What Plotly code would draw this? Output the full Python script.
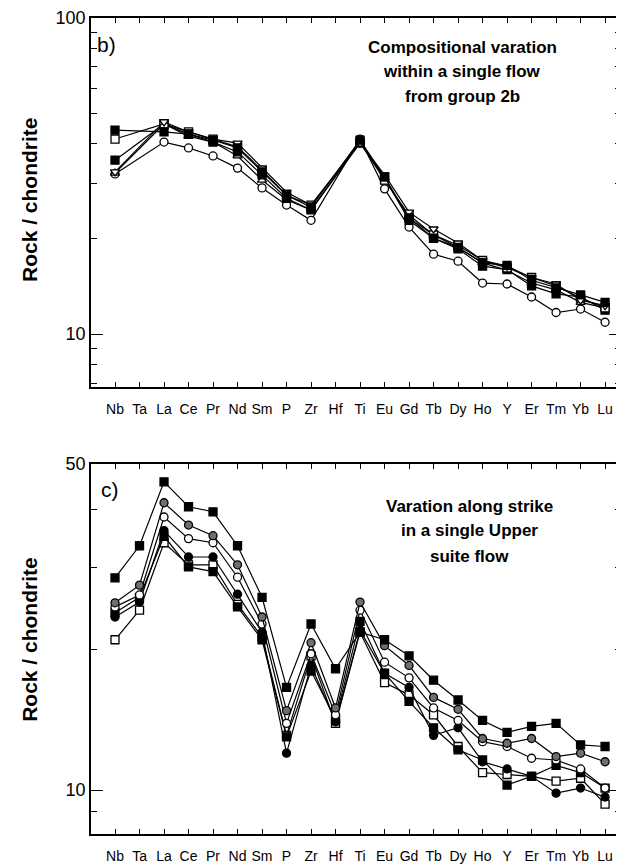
import plotly.graph_objects as go
from plotly.subplots import make_subplots

elements = ["Nb", "Ta", "La", "Ce", "Pr", "Nd", "Sm", "P", "Zr", "Hf", "Ti",
            "Eu", "Gd", "Tb", "Dy", "Ho", "Y", "Er", "Tm", "Yb", "Lu"]

# Panel b) - compositional variation within a single flow from group 2b
b_fsq1 = [44.2, None, 43.6, 42.9, 41.1, 38.8, 32.6, 27.5, 25.2, None, 41.1, 31.4, 23.3, 20.1, 18.8, 16.8, 16.5, 14.8, 14.0, 13.3, 12.6]
b_osq = [41.4, None, 46.2, 43.6, 41.4, 39.1, 33.0, 27.5, 25.6, None, 40.5, 30.7, 23.8, 20.6, 19.1, 17.1, 16.2, 15.1, 14.2, 13.0, 12.1]
b_fsq2 = [35.5, None, 46.2, 42.9, 40.5, 37.7, 31.9, 26.9, 24.7, None, 40.2, 31.2, 22.9, 20.1, 18.6, 16.4, 16.0, 14.2, 13.4, 13.1, 11.9]
b_dtri = [32.6, None, 46.9, 43.6, 41.4, 40.2, 33.5, 28.1, 25.6, None, 40.2, 31.9, 24.3, 21.5, 19.4, 17.1, 16.4, 15.1, 14.4, 12.8, 12.3]
b_utri = [32.3, None, 46.2, 42.3, 40.5, 36.6, 30.7, 26.6, 24.7, None, 40.5, 31.2, 23.3, 20.6, 18.8, 16.8, 15.9, 14.5, 13.8, 12.6, 12.1]
b_ocirc = [32.1, None, 40.5, 38.8, 36.6, 33.5, 29.0, 25.6, 22.9, None, 41.4, 28.8, 21.8, 17.9, 17.0, 14.5, 14.4, 13.1, 11.7, 12.0, 10.9]

# Panel c) - variation along strike in a single Upper suite flow
c_fsq_hi = [28.5, 33.4, 45.8, 40.5, 39.5, 33.4, 25.9, 16.6, 22.7, 18.2, 21.8, 21.0, 19.4, 17.2, 15.6, 14.1, 13.3, 13.7, 13.9, 12.5, 12.4]
c_gcirc = [25.2, 27.5, 41.3, 37.0, 35.1, 30.4, 23.5, 14.8, 20.7, 15.0, 25.3, 20.4, 18.5, 15.8, 14.9, 12.9, 12.6, 12.9, 11.8, 12.0, 11.5]
c_ocirc = [24.7, 26.2, 38.5, 34.6, 33.9, 28.6, 22.7, 13.9, 19.6, 14.5, 24.3, 18.8, 17.4, 15.0, 14.1, 12.7, 12.4, 11.7, 11.6, 11.1, 10.1]
c_fcirc = [23.5, 25.3, 36.0, 31.6, 31.6, 26.3, 21.8, 12.0, 18.5, 14.0, 22.0, 17.8, 16.6, 13.1, 13.6, 11.5, 11.1, 10.7, 9.85, 10.1, 9.66]
c_osq = [21.0, 24.3, 33.9, 30.4, 30.4, 25.0, 21.3, 13.1, 19.4, 13.9, 21.8, 17.0, 16.0, 14.5, 12.4, 10.9, 10.8, 10.7, 10.45, 10.6, 9.33]
c_fsq_lo = [24.0, 25.9, 35.0, 30.1, 29.4, 24.7, 21.0, 13.0, 18.0, 14.2, 23.0, 17.8, 15.5, 13.6, 12.2, 11.6, 10.25, 10.7, 11.3, 10.9, 10.1]

FONT = "Liberation Sans, Arial, Helvetica, sans-serif"

# The page body has an 8 px default margin, so the figure is sized to fit inside it.
fig = make_subplots(rows=2, cols=1, vertical_spacing=0.09)
fig.update_layout(
    width=616, height=860,
    margin=dict(l=83, r=3, t=10, b=34),
    paper_bgcolor="white", plot_bgcolor="white",
    showlegend=False,
    font=dict(family=FONT, color="black"),
)
fig.layout.yaxis.domain = [0.5478, 1.0]
fig.layout.yaxis2.domain = [0.0, 0.4534]


def add(row, y, symbol, fill):
    fig.add_trace(go.Scatter(
        x=elements, y=y, mode="lines+markers", connectgaps=True,
        line=dict(color="black", width=1.2),
        marker=dict(symbol=symbol, size=8, color=fill,
                    line=dict(color="black", width=1.3)),
        hoverinfo="skip", cliponaxis=False), row=row, col=1)


add(1, b_ocirc, "circle", "white")
add(1, b_utri, "triangle-up", "white")
add(1, b_fsq2, "square", "black")
add(1, b_osq, "square", "white")
add(1, b_dtri, "triangle-down", "white")
add(1, b_fsq1, "square", "black")

add(2, c_osq, "square", "white")
add(2, c_fsq_lo, "square", "black")
add(2, c_fcirc, "circle", "black")
add(2, c_ocirc, "circle", "white")
add(2, c_gcirc, "circle", "#6e6e6e")
add(2, c_fsq_hi, "square", "black")

xcommon = dict(
    type="category", categoryorder="array", categoryarray=elements,
    range=[-0.98, 20.65], showline=True, linecolor="black", linewidth=1.5,
    mirror="allticks", ticks="inside", ticklen=5, tickwidth=1.2,
    tickcolor="black", showgrid=False, zeroline=False, automargin=False,
    tickfont=dict(size=14, family=FONT), ticklabelstandoff=8,
)
fig.update_xaxes(**xcommon)

ycommon = dict(
    type="log", showline=True, linecolor="black", linewidth=1.5,
    mirror="allticks", ticks="inside", ticklen=12, tickwidth=1.2,
    tickcolor="black", showgrid=False, zeroline=False, automargin=False,
    tickfont=dict(size=18, family=FONT),
)
fig.update_yaxes(**ycommon)
fig.update_yaxes(range=[0.8325, 2.0], tickvals=[10, 100], ticktext=["10", "100"],
                 minor=dict(tickvals=[7, 8, 9, 20, 30, 40, 50, 60, 70, 80, 90],
                            ticks="inside", ticklen=6, tickcolor="black", showgrid=False),
                 row=1, col=1)
fig.update_yaxes(range=[0.9058, 1.699], tickvals=[10, 50], ticktext=["10", "50"],
                 minor=dict(tickvals=[9, 20, 30, 40],
                            ticks="inside", ticklen=6, tickcolor="black", showgrid=False),
                 row=2, col=1)

ann = []


def text(xref, yref, x, y, s, size, bold=False, anchor="center"):
    ann.append(dict(xref=xref, yref=yref, x=x, y=y,
                    text=("<b>%s</b>" % s) if bold else s,
                    showarrow=False, xanchor=anchor, yanchor="middle",
                    font=dict(size=size, family=FONT)))


text("x domain", "y domain", 0.008, 0.927, "b)", 21, anchor="left")
for s, yy in zip(["Compositional varation", "within a single flow", "from group 2b"],
                 [0.921, 0.854, 0.786]):
    text("x domain", "y domain", 0.70, yy, s, 17, bold=True)

text("x2 domain", "y2 domain", 0.016, 0.93, "c)", 21, anchor="left")
for s, yy in zip(["Varation along strike", "in a single Upper", "suite flow"],
                 [0.886, 0.819, 0.751]):
    text("x2 domain", "y2 domain", 0.715, yy, s, 17, bold=True)

for yc in (0.777, 0.238):
    ann.append(dict(xref="paper", yref="paper", x=-0.115, y=yc,
                    text="<b>Rock / chondrite</b>", textangle=-90,
                    showarrow=False, xanchor="center", yanchor="middle",
                    font=dict(size=21, family=FONT)))
fig.update_layout(annotations=ann)

fig.write_html("out.html")
